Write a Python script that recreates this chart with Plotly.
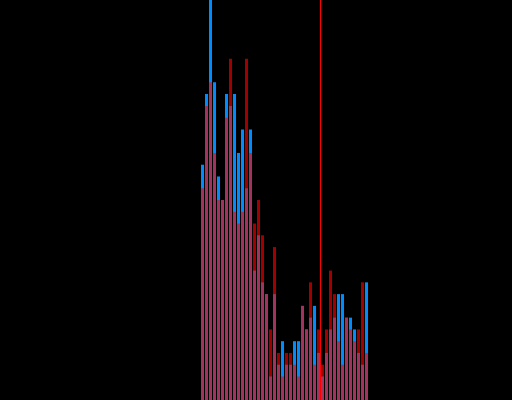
import plotly.graph_objects as go

# Histogram counts per bin (bins indexed 0..41)
bins = list(range(42))
blue_counts = [20, 26, 34, 27, 19, 17, 26, 25, 26, 21, 23, 18, 23, 11, 14, 10, 9, 2, 9, 3, 5,
               3, 3, 5, 5, 8, 6, 7, 8, 4, 2, 4, 6, 7, 9, 9, 7, 7, 6, 4, 3, 10]
red_counts = [18, 25, 27, 21, 17, 17, 24, 29, 16, 15, 16, 29, 21, 15, 17, 14, 9, 6, 13, 4, 2,
              4, 4, 3, 2, 8, 6, 10, 3, 6, 3, 6, 11, 9, 5, 3, 7, 6, 5, 6, 10, 4]
threshold = 29.5

fig = go.Figure()
fig.add_trace(go.Bar(x=bins, y=blue_counts, marker=dict(color="rgb(0,140,255)", line=dict(width=0)),
                     opacity=1.0, showlegend=False))
fig.add_trace(go.Bar(x=bins, y=red_counts, marker=dict(color="rgb(255,0,0)", line=dict(width=0)),
                     opacity=0.63, showlegend=False))
fig.add_shape(type="line", x0=threshold, x1=threshold, y0=0, y1=1, yref="paper", xref="x",
              line=dict(color="rgb(255,0,0)", width=1), layer="above")

fig.update_layout(
    width=512, height=400,
    margin=dict(l=0, r=0, t=0, b=0, pad=0),
    paper_bgcolor="black", plot_bgcolor="black",
    barmode="overlay", bargap=0.25,
    xaxis=dict(range=[-50.625, 77.375], visible=False, showgrid=False, zeroline=False),
    yaxis=dict(range=[0, 34], visible=False, showgrid=False, zeroline=False),
)

fig.write_html("out.html", config={"displayModeBar": False},
               post_script="document.body.style.margin='0';document.body.style.background='black';")
